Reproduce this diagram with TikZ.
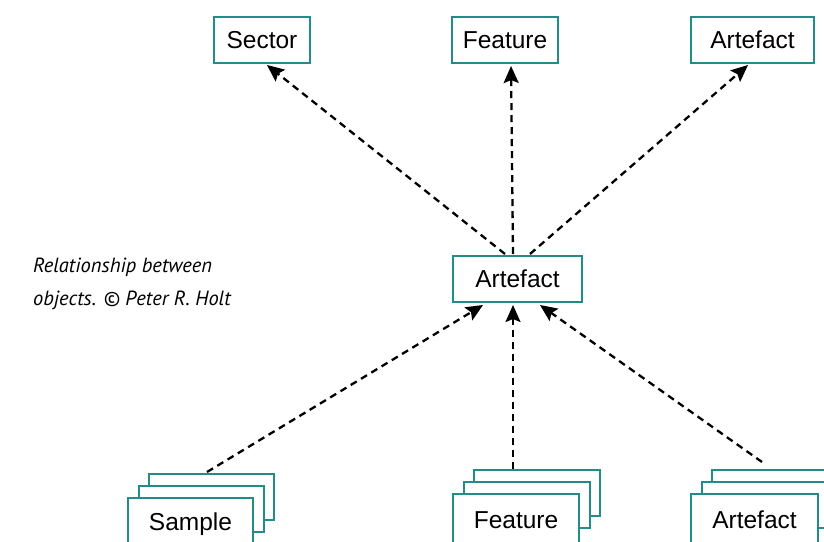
\documentclass[tikz,border=0pt]{standalone}
\usepackage{fontspec}
\setmainfont{Liberation Sans}
\newfontfamily\captionfont{PT Sans}
\usetikzlibrary{arrows.meta}
\definecolor{boxteal}{RGB}{34,140,136}
\tikzset{
  objbox/.style={draw=boxteal, line width=2pt, fill=white, minimum height=46pt,
    inner sep=0pt, font=\fontsize{24.5}{28}\selectfont},
  link/.style={dashed, dash pattern=on 7pt off 5pt, line width=2.3pt,
    -{Stealth[length=17pt,width=15pt,inset=3pt]}}
}
\begin{document}
\begin{tikzpicture}[x=1pt, y=-1pt]
\useasboundingbox (0,0) rectangle (824,541);

% upper row
\node[objbox, minimum width=96pt]  (sector) at (262,40)   {Sector};
\node[objbox, minimum width=106pt] (featA)  at (505,40)   {Feature};
\node[objbox, minimum width=123pt] (artA)   at (752.5,40) {Artefact};

% central object
\node[objbox, minimum width=129pt] (mid) at (517.5,279) {Artefact};

% lower row: stacks of three boxes (front box runs past the lower edge)
\foreach \nm/\lx/\ty/\w/\lbl in {sample/127/497/125/Sample, featB/452/493/126/Feature, artB/690/493/127/Artefact}{
  \node[objbox, minimum width=\w pt, anchor=north west] (\nm3) at (\lx+21,\ty-24) {};
  \node[objbox, minimum width=\w pt, anchor=north west] (\nm2) at (\lx+10.5,\ty-12) {};
  \node[objbox, minimum width=\w pt, minimum height=52pt, anchor=north west] (\nm1) at (\lx,\ty) {\lbl};
}

% caption
\node[anchor=base west, inner sep=0pt,
      font=\captionfont\itshape\fontsize{20.5}{24}\selectfont] (cap1) at (33,272)
  {Relationship between};
\node[anchor=base west, inner sep=0pt,
      font=\captionfont\itshape\fontsize{20.5}{24}\selectfont] (cap2) at (33,305)
  {objects. © Peter R. Holt};

% connector end points
\coordinate (m1) at (505,254);
\coordinate (m2) at (513,254);
\coordinate (m3) at (530,254);
\coordinate (t1) at (267,65);
\coordinate (t2) at (511,66);
\coordinate (t3) at (748,65);
\coordinate (b1) at (483,305);
\coordinate (b2) at (513,305);
\coordinate (b3) at (540,305);
\coordinate (s1) at (207,472);
\coordinate (s2) at (513,469);
\coordinate (s3) at (762,462);

\draw[link] (m1) -- (t1);
\draw[link] (m2) -- (t2);
\draw[link] (m3) -- (t3);
\draw[link] (s1) -- (b1);
\draw[link] (s2) -- (b2);
\draw[link] (s3) -- (b3);
\end{tikzpicture}
\end{document}
